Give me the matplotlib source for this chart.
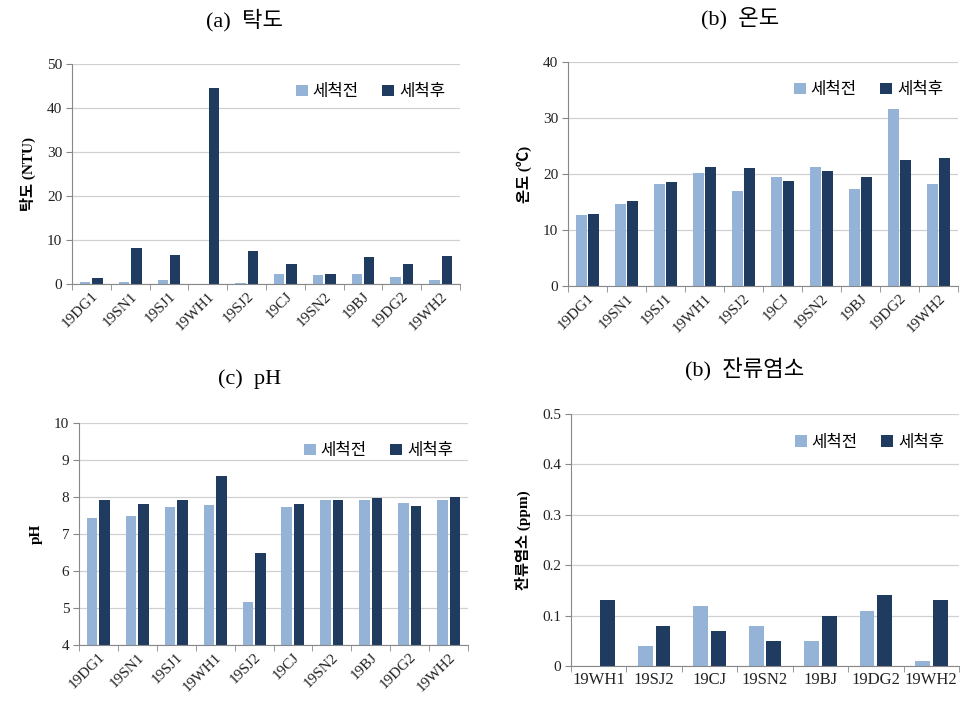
import matplotlib.pyplot as plt
import numpy as np

sites_all = ["19DG1", "19SN1", "19SJ1", "19WH1", "19SJ2", "19CJ", "19SN2", "19BJ", "19DG2", "19WH2"]
sites_cl = ["19WH1", "19SJ2", "19CJ", "19SN2", "19BJ", "19DG2", "19WH2"]

turb_before = [0.5, 0.5, 1.0, 0.0, 0.3, 2.3, 2.0, 2.3, 1.5, 0.8]
turb_after = [1.3, 8.1, 6.6, 44.6, 7.4, 4.6, 2.3, 6.1, 4.6, 6.4]

temp_before = [12.6, 14.6, 18.3, 20.2, 17.0, 19.5, 21.3, 17.4, 31.6, 18.3]
temp_after = [12.9, 15.1, 18.5, 21.3, 21.1, 18.7, 20.5, 19.5, 22.5, 22.9]

ph_before = [7.42, 7.48, 7.73, 7.78, 5.15, 7.73, 7.91, 7.91, 7.85, 7.91]
ph_after = [7.91, 7.81, 7.93, 8.57, 6.48, 7.81, 7.91, 7.96, 7.76, 8.0]

cl_before = [0.0, 0.04, 0.12, 0.08, 0.05, 0.11, 0.01]
cl_after = [0.13, 0.08, 0.07, 0.05, 0.10, 0.14, 0.13]

legend_labels = ["세척전", "세척후"]
light = "#95b3d7"
dark = "#1f3b60"

serif_kr = ["Liberation Serif", "Noto Sans CJK KR"]
W, H = 978, 711


def make_panel(box, title, title_x, cats, before, after, ylim, yticks, ylabel, rotate):
    l, t, r, b = box
    ax = fig.add_axes([l / W, 1 - b / H, (r - l) / W, (b - t) / H])
    x = np.arange(len(cats))
    ax.bar(x - 0.16, before, 0.27, color=light, label=legend_labels[0], zorder=2)
    ax.bar(x + 0.16, after, 0.27, color=dark, label=legend_labels[1], zorder=2)
    ax.set_xlim(-0.5, len(cats) - 0.5)
    ax.set_ylim(*ylim)
    ax.set_yticks(yticks)
    ax.set_yticklabels([f"{v:g}" for v in yticks], family="Liberation Serif", fontsize=11, color="#222222")
    ax.set_xticks(x)
    if rotate:
        ax.set_xticklabels(cats, rotation=45, ha="right", rotation_mode="anchor",
                           family="Liberation Serif", fontsize=11, color="#222222")
    else:
        ax.set_xticklabels(cats, family="Liberation Serif", fontsize=12, color="#222222")
    ax.tick_params(axis="x", length=0, pad=4)
    ax.set_xticks(np.arange(len(cats) + 1) - 0.5, minor=True)
    ax.tick_params(axis="x", which="minor", length=4, color="#888888", direction="out")
    ax.tick_params(axis="y", length=4, color="#888888", direction="out", pad=3)
    ax.grid(axis="y", color="#d0d0d0", linewidth=0.9, zorder=0)
    ax.set_axisbelow(True)
    for s in ["top", "right"]:
        ax.spines[s].set_visible(False)
    for s in ["left", "bottom"]:
        ax.spines[s].set_color("#888888")
    ax.set_ylabel(ylabel, family=serif_kr, fontweight="bold", fontsize=11, labelpad=8)
    ax.legend(loc="upper right", bbox_to_anchor=(1.0, 0.98), ncol=2, frameon=False,
              handlelength=0.7, handleheight=0.7, handletextpad=0.3, columnspacing=1.4,
              prop={"family": "Noto Sans CJK KR", "size": 12})
    fig.text(title_x / W, 1 - (t - 44) / H, title, ha="center", va="center",
             family=serif_kr, fontsize=16)
    return ax


fig = plt.figure(figsize=(W / 100, H / 100), dpi=100)

make_panel((72, 64, 460, 284), "(a)  탁도", 245, sites_all, turb_before, turb_after,
           (0, 50), [0, 10, 20, 30, 40, 50], "탁도 (NTU)", True)
make_panel((568, 62, 958, 286), "(b)  온도", 740, sites_all, temp_before, temp_after,
           (0, 40), [0, 10, 20, 30, 40], "온도 (℃)", True)
make_panel((79, 423, 468, 645), "(c)  pH", 250, sites_all, ph_before, ph_after,
           (4, 10), [4, 5, 6, 7, 8, 9, 10], "pH", True)
make_panel((571, 414, 959, 666), "(b)  잔류염소", 745, sites_cl, cl_before, cl_after,
           (0, 0.5), [0, 0.1, 0.2, 0.3, 0.4, 0.5], "잔류염소 (ppm)", False)

fig.savefig("out.png", dpi=100)
